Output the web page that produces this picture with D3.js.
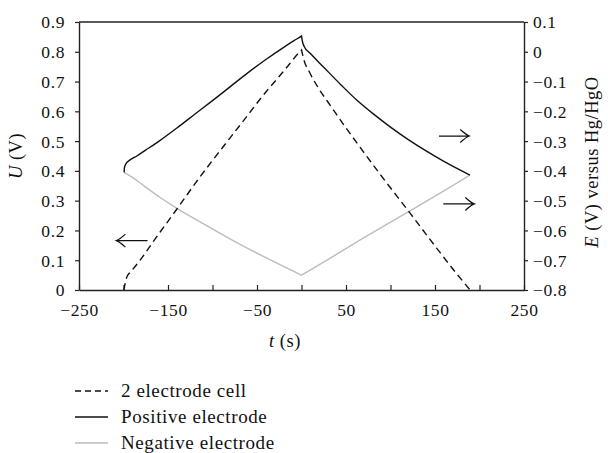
<!DOCTYPE html>
<html>
<head>
<meta charset="utf-8">
<script src="https://cdn.jsdelivr.net/npm/d3@7"></script>
<style>
  html, body { margin: 0; padding: 0; background: #fff; }
  svg { display: block; }
  text { font-family: "Liberation Serif", "Times New Roman", serif; fill: #111; }
</style>
</head>
<body>
<svg id="chart" width="608" height="453"></svg>
<script>
// ---- Data ----
// 2 electrode cell voltage U (V), left axis
const cellTime = [-199.5, -198, -196, -193, -190, -160, -140, -116, -100, -70, -40, -20, -1, 0,
                  3, 9.6, 36, 62, 88, 122, 152, 171, 189.5];
const cellU    = [0, 0.025, 0.045, 0.058, 0.068, 0.19, 0.272, 0.372, 0.435, 0.55, 0.665, 0.735, 0.803, 0.806,
                  0.77, 0.728, 0.604, 0.495, 0.39, 0.258, 0.14, 0.067, 0];
// Positive electrode potential E (V vs Hg/HgO), right axis
const posTime = [-199.3, -199, -197, -193, -185, -176, -160, -140, -120, -100, -80, -60, -40, -20, -8, -1, 0,
                 1, 3, 10, 25, 45, 62, 80, 100, 120, 140, 160, 189.3];
const posE    = [-0.405, -0.39, -0.375, -0.364, -0.350, -0.332, -0.300, -0.256, -0.210, -0.164, -0.117, -0.070, -0.026, 0.015, 0.038, 0.051, 0.053,
                 0.035, 0.018, -0.006, -0.052, -0.113, -0.162, -0.207, -0.253, -0.295, -0.333, -0.368, -0.414];
// Negative electrode potential E (V vs Hg/HgO), right axis
const negTime = [-199.3, -190, -178, -160, -140, -120, -100, -70, -35, 0, 30, 66, 100, 122, 160, 189.3];
const negE    = [-0.405, -0.422, -0.448, -0.487, -0.526, -0.561, -0.595, -0.645, -0.699, -0.750, -0.697, -0.632, -0.572, -0.534, -0.467, -0.414];

// Axis ticks
const xTicks = [-250, -200, -150, -100, -50, 0, 50, 100, 150, 200, 250];
const xTickLabels = ["\u2212250", "", "\u2212150", "", "\u221250", "", "50", "", "150", "", "250"];
const uTicks = [0, 0.1, 0.2, 0.3, 0.4, 0.5, 0.6, 0.7, 0.8, 0.9];
const uTickLabels = ["0", "0.1", "0.2", "0.3", "0.4", "0.5", "0.6", "0.7", "0.8", "0.9"];
const eTicks = [0.1, 0, -0.1, -0.2, -0.3, -0.4, -0.5, -0.6, -0.7, -0.8];
const eTickLabels = ["0.1", "0", "\u22120.1", "\u22120.2", "\u22120.3", "\u22120.4", "\u22120.5", "\u22120.6", "\u22120.7", "\u22120.8"];

// Arrow annotations
const arrowLeft = { t0: -173, t1: -208, v: 0.166, axis: "U" };
const arrowsRight = [
  { t0: 154.5, t1: 188.5, v: -0.283, axis: "E" },
  { t0: 159.3, t1: 194.2, v: -0.511, axis: "E" }
];

const legendLabels = ["2 electrode cell", "Positive electrode", "Negative electrode"];

// ---- Layout ----
const svg = d3.select("#chart");
const L = 79, R = 524, T = 22, B = 290;

const x = d3.scaleLinear().domain([-250, 250]).range([L, R]);
const yU = d3.scaleLinear().domain([0, 0.9]).range([B, T]);
const yE = d3.scaleLinear().domain([-0.8, 0.1]).range([B, T]);

const axisColor = "#222";
const tickFont = "17.5px";

svg.append("line").attr("x1", L).attr("x2", R).attr("y1", T).attr("y2", T)
  .attr("stroke", axisColor).attr("stroke-width", 1.4);

const gx = svg.append("g").attr("transform", `translate(0,${B})`)
  .call(d3.axisBottom(x).tickValues(xTicks).tickSizeInner(-5).tickSizeOuter(0)
    .tickFormat((d, i) => xTickLabels[i]));
gx.select(".domain").attr("stroke", axisColor).attr("stroke-width", 1.4);
gx.selectAll(".tick line").attr("stroke", axisColor).attr("stroke-width", 1.2);
gx.selectAll(".tick text").attr("y", 14).attr("dy", "0.71em")
  .style("font-size", tickFont).style("letter-spacing", "0.6px")
  .style("font-family", "Liberation Serif").attr("fill", "#111");

const gl = svg.append("g").attr("transform", `translate(${L},0)`)
  .call(d3.axisLeft(yU).tickValues(uTicks).tickSizeInner(4).tickSizeOuter(0)
    .tickFormat((d, i) => uTickLabels[i]));
gl.select(".domain").attr("stroke", axisColor).attr("stroke-width", 1.4);
gl.selectAll(".tick line").attr("stroke", axisColor).attr("stroke-width", 1.2);
gl.selectAll(".tick text").attr("x", -14).attr("dy", "0.34em")
  .style("font-size", tickFont).style("letter-spacing", "0.6px")
  .style("font-family", "Liberation Serif").attr("fill", "#111");

const gr = svg.append("g").attr("transform", `translate(${R},0)`)
  .call(d3.axisRight(yE).tickValues(eTicks).tickSizeInner(4).tickSizeOuter(0)
    .tickFormat((d, i) => eTickLabels[i]));
gr.select(".domain").attr("stroke", axisColor).attr("stroke-width", 1.4);
gr.selectAll(".tick line").attr("stroke", axisColor).attr("stroke-width", 1.2);
gr.selectAll(".tick text").attr("x", 9).attr("dy", "0.34em")
  .style("font-size", tickFont).style("letter-spacing", "0.6px")
  .style("font-family", "Liberation Serif").attr("fill", "#111");

// ---- Series (each drawn as rising and falling branches, smoothed) ----
const lineU = d3.line().x(d => x(d[0])).y(d => yU(d[1])).curve(d3.curveMonotoneX);
const lineE = d3.line().x(d => x(d[0])).y(d => yE(d[1])).curve(d3.curveMonotoneX);

function branches(ts, vs) {
  const pts = ts.map((t, i) => [t, vs[i]]);
  const k = ts.indexOf(0);
  return [pts.slice(0, k + 1), pts.slice(k)];
}

function drawSeries(ts, vs, line, stroke, dash) {
  const [a, b] = branches(ts, vs);
  const d = line(a) + line(b).replace(/^M/, "L");
  const p = svg.append("path").attr("d", d)
    .attr("fill", "none").attr("stroke", stroke).attr("stroke-width", 1.4)
    .attr("stroke-linejoin", "miter");
  if (dash) p.attr("stroke-dasharray", dash);
}

drawSeries(negTime, negE, lineE, "#bdbdbd", null);
drawSeries(posTime, posE, lineE, "#111", null);
drawSeries(cellTime, cellU, lineU, "#111", "7,4.5");

// ---- Arrows ----
function drawArrow(a) {
  const ys = a.axis === "U" ? yU : yE;
  const x0 = x(a.t0), x1 = x(a.t1), yy = ys(a.v);
  const dir = x1 > x0 ? 1 : -1;
  const hl = 9, hw = 6.5;
  svg.append("path")
    .attr("d", `M${x0},${yy}L${x1},${yy}M${x1 - dir * hl},${yy - hw}Q${x1 - dir * 3},${yy - 1} ${x1},${yy}Q${x1 - dir * 3},${yy + 1} ${x1 - dir * hl},${yy + hw}`)
    .attr("fill", "none").attr("stroke", "#111").attr("stroke-width", 1.2);
}
drawArrow(arrowLeft);
arrowsRight.forEach(drawArrow);

// ---- Axis titles ----
const tl = svg.append("text").attr("transform", `translate(22,156) rotate(-90)`)
  .attr("text-anchor", "middle").style("font-size", "18.5px").style("letter-spacing", "0.5px");
tl.append("tspan").style("font-style", "italic").text("U");
tl.append("tspan").text(" (V)");

const tr = svg.append("text").attr("transform", `translate(598,162) rotate(-90)`)
  .attr("text-anchor", "middle").style("font-size", "18.5px").style("letter-spacing", "0.5px");
tr.append("tspan").style("font-style", "italic").text("E");
tr.append("tspan").text(" (V) versus Hg/HgO");

const tb = svg.append("text").attr("x", 285).attr("y", 347)
  .attr("text-anchor", "middle").style("font-size", "18.5px").style("letter-spacing", "0.5px");
tb.append("tspan").style("font-style", "italic").text("t");
tb.append("tspan").text(" (s)");

// ---- Legend ----
const legendY = [391, 417, 443];
const legendStyles = [
  { stroke: "#111", dash: "6,4" },
  { stroke: "#111", dash: null },
  { stroke: "#bdbdbd", dash: null }
];
legendLabels.forEach((lab, i) => {
  const ln = svg.append("line").attr("x1", 75).attr("x2", 108)
    .attr("y1", legendY[i]).attr("y2", legendY[i])
    .attr("stroke", legendStyles[i].stroke).attr("stroke-width", 1.4);
  if (legendStyles[i].dash) ln.attr("stroke-dasharray", legendStyles[i].dash);
  svg.append("text").attr("x", 121).attr("y", legendY[i]).attr("dy", "0.32em")
    .style("font-size", "19px").style("letter-spacing", "0.6px").text(lab);
});
</script>
</body>
</html>
